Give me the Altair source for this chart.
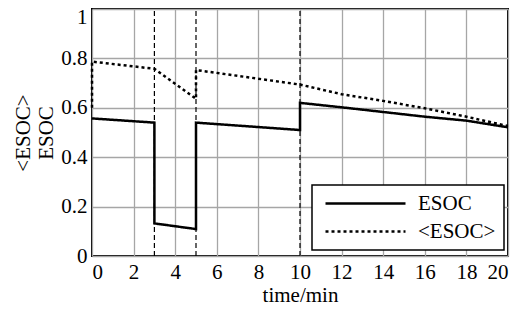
import altair as alt
import pandas as pd

# ESOC (solid)
esoc_t = [0, 3, 3, 5, 5, 10, 10, 12, 14, 16, 18, 20]
esoc_v = [0.557, 0.540, 0.132, 0.109, 0.540, 0.510, 0.620, 0.602, 0.583, 0.564, 0.548, 0.521]

# <ESOC> (dotted)
avg_t = [0, 0, 3, 5, 5, 10, 12, 14, 16, 18, 20]
avg_v = [0.600, 0.787, 0.758, 0.636, 0.753, 0.694, 0.655, 0.628, 0.598, 0.564, 0.526]

# switching instants (vertical dashed lines)
events = [3, 5, 10]

series_names = ["ESOC", "<ESOC>"]

rows = []
for i, (t, v) in enumerate(zip(esoc_t, esoc_v)):
    rows.append({"t": t, "v": v, "s": series_names[0], "o": i})
for i, (t, v) in enumerate(zip(avg_t, avg_v)):
    rows.append({"t": t, "v": v, "s": series_names[1], "o": i})
df = pd.DataFrame(rows)
ev = pd.DataFrame({"t": events, "y0": [0] * len(events), "y1": [1] * len(events)})

FONT = "Liberation Serif"

xs = alt.Scale(domain=[0, 20], nice=False, zero=False)
ys = alt.Scale(domain=[0, 1], nice=False)

vlines = alt.Chart(ev).mark_rule(color="black", strokeWidth=1.2, strokeDash=[5, 3]).encode(
    x=alt.X("t:Q", scale=xs),
    y=alt.Y("y0:Q", scale=ys),
    y2="y1:Q",
)

leg = alt.Legend(title=None, orient="none", legendX=220, legendY=176)

lines = alt.Chart(df).mark_line(strokeWidth=2.5).encode(
    x=alt.X("t:Q", scale=xs,
            axis=alt.Axis(title="time/min", values=list(range(0, 21, 2)), format="~g")),
    y=alt.Y("v:Q", scale=ys,
            axis=alt.Axis(title=["<ESOC>", "ESOC"], values=[0, 0.2, 0.4, 0.6, 0.8, 1.0], format="~g",
                          labelOffset=alt.expr("datum.value == 1 ? 8 : 0"))),
    order="o:Q",
    color=alt.Color("s:N", scale=alt.Scale(domain=series_names, range=["black", "black"]), legend=leg),
    strokeDash=alt.StrokeDash("s:N", scale=alt.Scale(domain=series_names, range=[[1, 0], [3, 3]]),
                              legend=leg),
)

chart = alt.layer(vlines, lines).properties(
    width=416, height=247,
    autosize=alt.AutoSizeParams(type="none"),
    padding={"left": 84, "top": 1, "right": 10, "bottom": 49},
).configure_view(
    stroke="black", strokeWidth=2
).configure_axis(
    grid=True, gridColor="#a6a6a6", gridWidth=1.3, domain=False, ticks=False,
    labelFont=FONT, labelFontSize=21, labelColor="black", labelPadding=5,
    titleFont=FONT, titleFontSize=21, titleColor="black", titleFontWeight="normal",
).configure_axisX(
    titlePadding=2,
).configure_axisY(
    titlePadding=4, titleLineHeight=23,
).configure_legend(
    symbolType="M-1,0H15", symbolSize=100, symbolStrokeWidth=2.5,
    labelFont=FONT, labelFontSize=21, labelColor="black", labelOffset=77,
    rowPadding=6, padding=8, strokeColor="black", strokeWidth=1.5,
    fillColor="white", cornerRadius=0, labelLimit=200,
)

chart.save("out.html", embed_options={"renderer": "svg", "actions": False})
